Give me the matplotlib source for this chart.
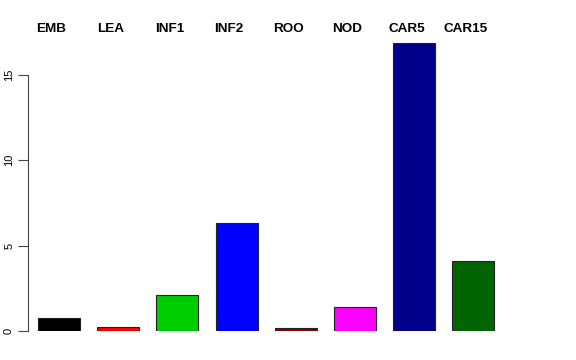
import matplotlib
matplotlib.use("Agg")
import matplotlib.pyplot as plt

# tissue expression values
tissues = ["EMB", "LEA", "INF1", "INF2", "ROO", "NOD", "CAR5", "CAR15"]
values = [0.78, 0.23, 2.1, 6.3, 0.15, 1.42, 16.85, 4.1]
colors = ["#000000", "#FF0000", "#00CD00", "#0000FF", "#8B0000", "#FF00FF", "#00008B", "#006400"]
yticks = [0, 5, 10, 15]

plt.rcParams['font.family'] = ['Liberation Sans', 'DejaVu Sans']

W, H = 576, 360
fig = plt.figure(figsize=(W / 100, H / 100), dpi=100)

step = 59.2  # px between bar centres
left_px, right_px = 28, 548
bottom_px, ypx = 29, 17.1  # px per unit on y
ymax = 17.5
ax = fig.add_axes([left_px / W, bottom_px / H, (right_px - left_px) / W, ymax * ypx / H])

x0 = -(59 - left_px) / step
ax.set_xlim(x0, x0 + (right_px - left_px) / step)
ax.set_ylim(0, ymax)

xs = list(range(len(tissues)))
ax.bar(xs, values, width=0.71, color=colors, edgecolor="#222222", linewidth=0.8)

for s in ["top", "right", "bottom"]:
    ax.spines[s].set_visible(False)
ax.spines["left"].set_bounds(0, 15)
ax.spines["left"].set_color("#444444")
ax.set_xticks([])
ax.set_yticks(yticks)
ax.set_yticklabels([str(t) for t in yticks], rotation=90, va="center", fontsize=8)
ax.tick_params(axis="y", length=7, width=0.8, color="#444444", pad=3)

# tissue names across the top, slightly left of each bar
for x, name in zip(xs, tissues):
    xf = (left_px + (x - x0) * step - 7.5) / W
    fig.text(xf, 1 - 29.5 / H, name, ha="center", va="center", fontsize=9.7, fontweight="bold")

fig.savefig("out.png", dpi=100)
